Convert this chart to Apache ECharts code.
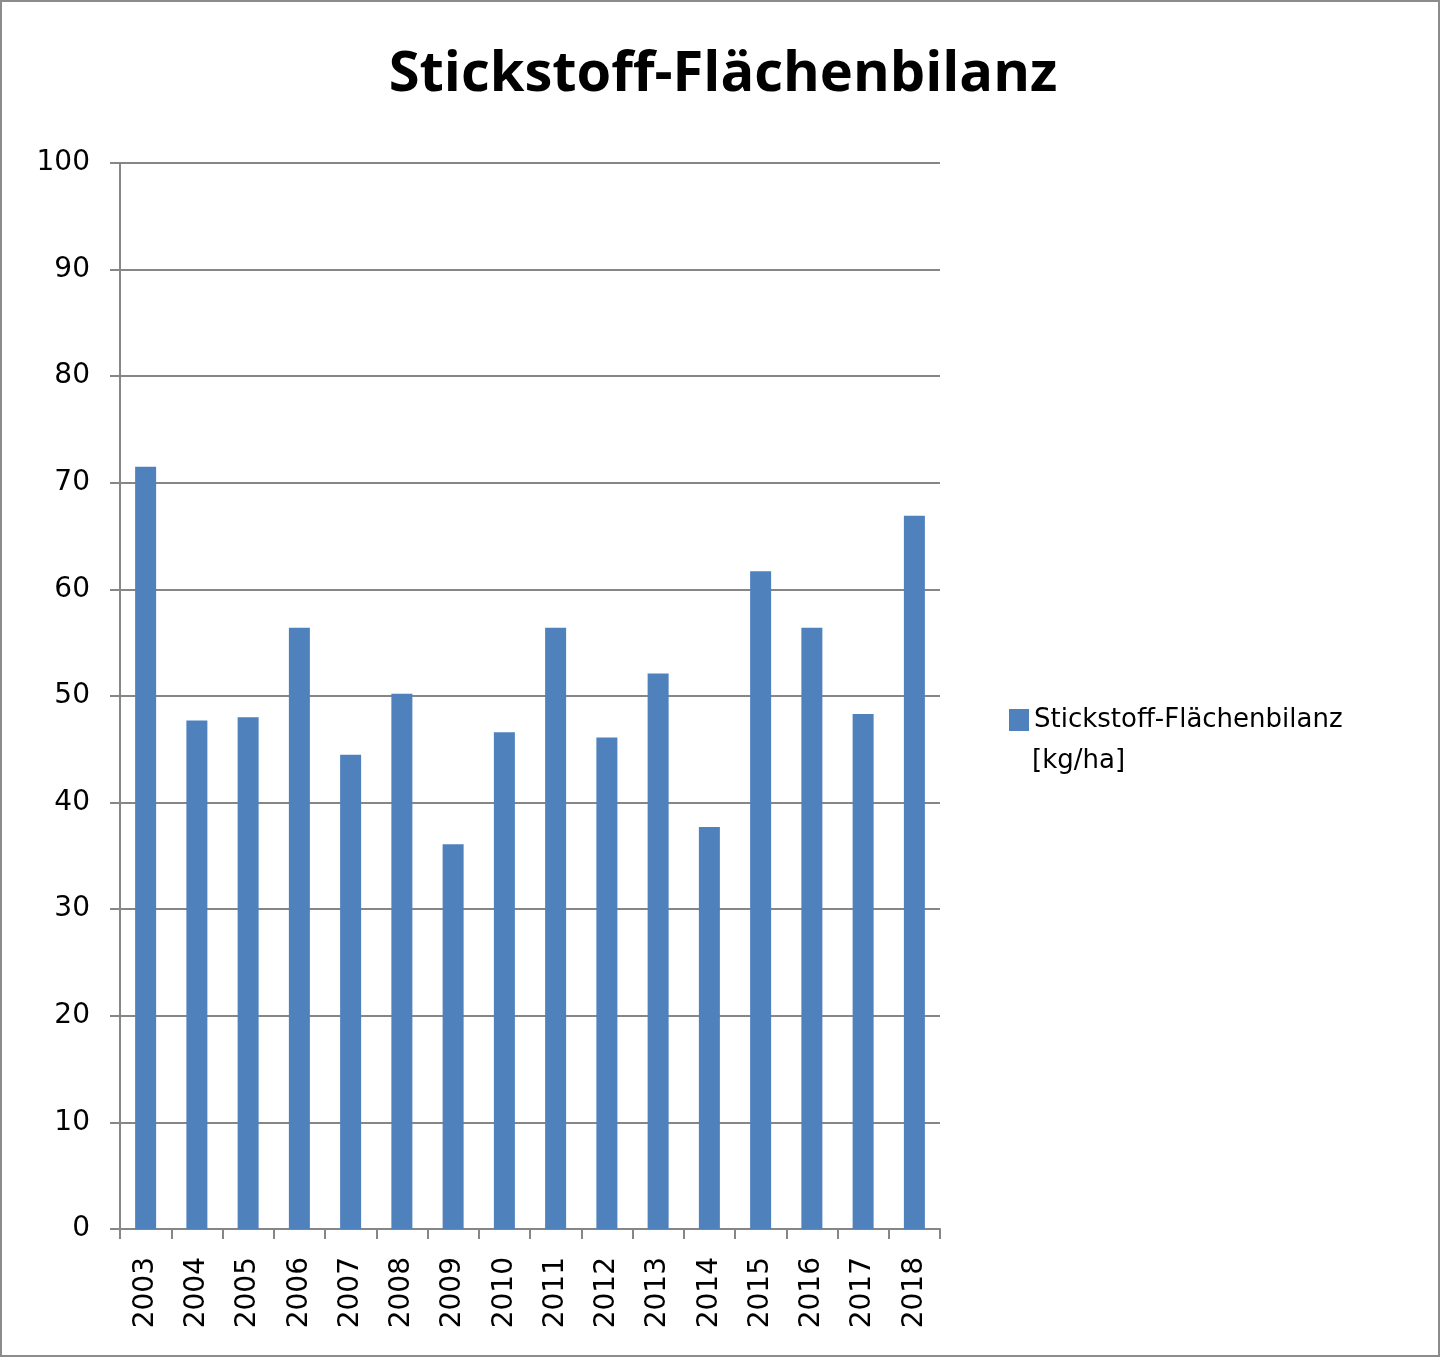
<!DOCTYPE html>
<html>
<head>
<meta charset="utf-8">
<script src="https://cdn.jsdelivr.net/npm/echarts@6/dist/echarts.min.js"></script>
<style>
html,body{margin:0;padding:0;background:#fff}
#chart{width:1440px;height:1357px;box-sizing:border-box;border:2px solid #8c8c8c}
</style>
</head>
<body>
<div id="chart"></div>
<script>
var years = ['2003','2004','2005','2006','2007','2008','2009','2010','2011','2012','2013','2014','2015','2016','2017','2018'];
var bilanz = [71.5, 47.7, 48.0, 56.4, 44.5, 50.2, 36.1, 46.6, 56.4, 46.1, 52.1, 37.7, 61.7, 56.4, 48.3, 66.9];
var seriesName = 'Stickstoff-Flächenbilanz';
var unitLine = '[kg/ha]';

var myChart = echarts.init(document.getElementById('chart'));
myChart.setOption({
    animation: false,
    textStyle: { fontFamily: 'DejaVu Sans' },
    title: {
        text: 'Stickstoff-Flächenbilanz',
        left: 716,
        textAlign: 'center',
        top: 40,
        textStyle: { fontSize: 56, fontWeight: 'bold', color: '#000', fontFamily: 'Open Sans' }
    },
    legend: {
        left: 1002,
        top: 700,
        itemWidth: 20,
        itemHeight: 22,
        itemGap: 8,
        icon: 'rect',
        textStyle: { fontSize: 26, color: '#000', fontFamily: 'DejaVu Sans' },
        data: [seriesName]
    },
    graphic: [{
        type: 'text',
        left: 1030,
        top: 746,
        style: { text: unitLine, fontSize: 26, fill: '#000', fontFamily: 'DejaVu Sans' }
    }],
    grid: { left: 118, top: 161, width: 820, height: 1066 },
    xAxis: {
        type: 'category',
        data: years,
        axisLine: { lineStyle: { color: '#868686', width: 2 } },
        axisTick: { show: true, length: 10, lineStyle: { color: '#868686', width: 2 } },
        axisLabel: { rotate: 90, fontSize: 28, color: '#000', margin: 28, fontFamily: 'DejaVu Sans' }
    },
    yAxis: {
        type: 'value',
        min: 0,
        max: 100,
        interval: 10,
        axisLine: { show: true, lineStyle: { color: '#868686', width: 2 } },
        axisTick: { show: true, length: 10, lineStyle: { color: '#868686', width: 2 } },
        splitLine: { lineStyle: { color: '#868686', width: 2 } },
        axisLabel: { fontSize: 28, color: '#000', margin: 30, fontFamily: 'DejaVu Sans' }
    },
    series: [{
        name: seriesName,
        type: 'bar',
        data: bilanz,
        barWidth: 21,
        itemStyle: { color: '#4f81bd' }
    }]
});
</script>
</body>
</html>
